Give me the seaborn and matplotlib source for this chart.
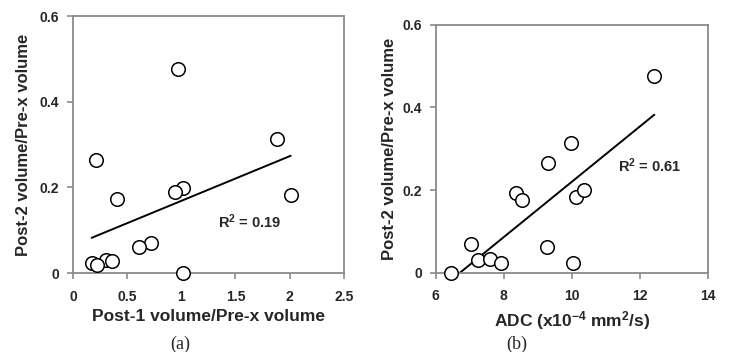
import numpy as np
import pandas as pd
import seaborn as sns
import matplotlib
matplotlib.use('Agg')
import matplotlib.pyplot as plt
from matplotlib.ticker import FuncFormatter

# panel (a): post-1 / pre-x volume vs post-2 / pre-x volume
post1_ratio = [0.967, 1.88, 0.209, 1.013, 0.939, 2.01, 0.403, 0.724, 0.613, 0.305, 0.363, 0.172, 0.219, 1.013]
post2_ratio_a = [0.476, 0.313, 0.265, 0.198, 0.190, 0.183, 0.173, 0.069, 0.061, 0.031, 0.027, 0.023, 0.019, 0.0]

# panel (b): ADC vs post-2 / pre-x volume
adc = [6.45, 7.04, 7.25, 7.61, 7.91, 8.37, 8.55, 9.29, 9.26, 9.98, 10.03, 10.14, 10.35, 12.43]
post2_ratio_b = [0.0, 0.070, 0.030, 0.033, 0.023, 0.192, 0.175, 0.266, 0.061, 0.315, 0.024, 0.184, 0.200, 0.477]

r2_labels = ['R$^2$ = 0.19', 'R$^2$ = 0.61']

df_a = pd.DataFrame({'x': post1_ratio, 'y': post2_ratio_a})
df_b = pd.DataFrame({'x': adc, 'y': post2_ratio_b})

sns.set_style('white')
plt.rcParams['font.family'] = ['Liberation Sans', 'DejaVu Sans']
plt.rcParams['font.weight'] = 'bold'
plt.rcParams['mathtext.fontset'] = 'custom'
plt.rcParams['mathtext.rm'] = 'Liberation Sans:bold'
plt.rcParams['mathtext.it'] = 'Liberation Sans:bold'
plt.rcParams['mathtext.bf'] = 'Liberation Sans:bold'
plt.rcParams['mathtext.default'] = 'rm'

fig = plt.figure(figsize=(7.3, 3.52), dpi=100, facecolor='w')
ax1 = fig.add_axes([0.100, 0.2244, 0.371, 0.7301])
ax2 = fig.add_axes([0.5968, 0.2253, 0.3727, 0.7045])

spine_col = '#8a8a8a'


def style_axes(ax):
    for s in ax.spines.values():
        s.set_color(spine_col)
        s.set_linewidth(1.3)
    ax.tick_params(axis='both', direction='out', length=4, width=1.2, color=spine_col,
                   labelsize=10, bottom=True, left=True)
    ax.tick_params(axis='x', pad=8)
    ax.tick_params(axis='y', pad=6)
    for lbl in ax.get_xticklabels() + ax.get_yticklabels():
        lbl.set_fontweight('bold')
    ax.yaxis.set_major_formatter(FuncFormatter(lambda v, p: '{:g}'.format(round(v, 3))))
    ax.xaxis.set_major_formatter(FuncFormatter(lambda v, p: '{:g}'.format(round(v, 3))))


for ax, df in [(ax1, df_a), (ax2, df_b)]:
    sns.regplot(data=df, x='x', y='y', ax=ax, scatter=False, ci=None, truncate=True,
                line_kws={'color': 'black', 'linewidth': 1.4})
    sns.scatterplot(data=df, x='x', y='y', ax=ax, s=95, facecolor='white',
                    edgecolor='black', linewidth=1.1, zorder=3, clip_on=False)

ax1.set_xlim(0, 2.5)
ax1.set_ylim(0, 0.6)
ax1.set_xticks([0, 0.5, 1, 1.5, 2, 2.5])
ax1.set_yticks([0, 0.2, 0.4, 0.6])
ax2.set_xlim(6, 14)
ax2.set_ylim(0, 0.6)
ax2.set_xticks([6, 8, 10, 12, 14])
ax2.set_yticks([0, 0.2, 0.4, 0.6])

style_axes(ax1)
style_axes(ax2)

ax1.set_xlabel('Post-1 volume/Pre-x volume', fontsize=12.5, fontweight='bold', labelpad=4)
ax1.set_ylabel('Post-2 volume/Pre-x volume', fontsize=12, fontweight='bold', labelpad=6)
ax2.set_xlabel('ADC (x10$^{-4}$ mm$^2$/s)', fontsize=12.5, fontweight='bold', labelpad=4)
ax2.set_ylabel('Post-2 volume/Pre-x volume', fontsize=12, fontweight='bold', labelpad=4)

ax1.text(1.635, 0.12, r2_labels[0], fontsize=10.5, fontweight='bold', ha='center', va='center')
ax2.text(12.3, 0.259, r2_labels[1], fontsize=10.5, fontweight='bold', ha='center', va='center')

fig.text(180 / 730, 1 - 344 / 352, '(a)', fontsize=13, family='Liberation Serif',
         fontweight='normal', ha='center', va='center')
fig.text(517 / 730, 1 - 344 / 352, '(b)', fontsize=13, family='Liberation Serif',
         fontweight='normal', ha='center', va='center')

fig.savefig('out.png', dpi=100, facecolor='w')
